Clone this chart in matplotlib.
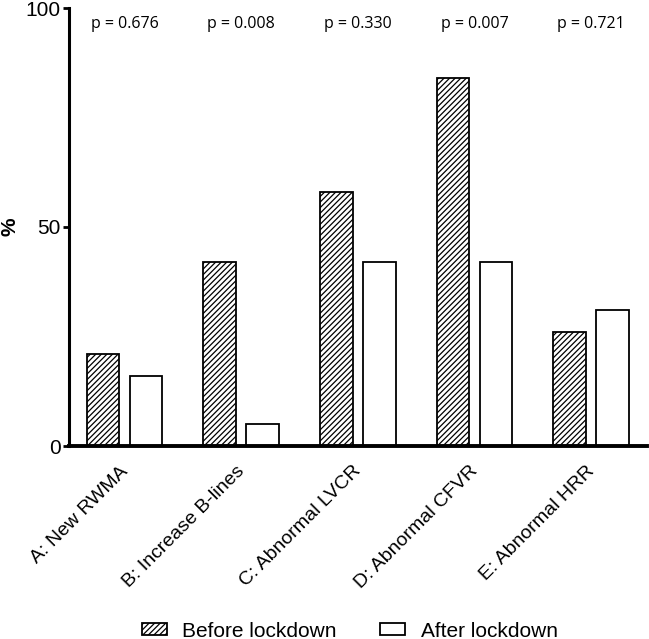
import matplotlib.pyplot as plt
import matplotlib.transforms as mtransforms
import numpy as np

categories = ["A: New RWMA", "B: Increase B-lines", "C: Abnormal LVCR",
              "D: Abnormal CFVR", "E: Abnormal HRR"]
before_lockdown = [21, 42, 58, 84, 26]
after_lockdown = [16, 5, 42, 42, 31]
p_values = ["p = 0.676", "p = 0.008", "p = 0.330", "p = 0.007", "p = 0.721"]

plt.rcParams['font.family'] = ['Liberation Sans', 'DejaVu Sans']
plt.rcParams['hatch.linewidth'] = 0.9

fig = plt.figure(figsize=(6.49, 6.39), dpi=100)
ax = fig.add_axes([69 / 649, 1 - 446 / 639, (647 - 69) / 649, (446 - 8) / 639])

x = np.arange(len(categories))
width = 0.28
offset = 0.184

ax.bar(x - offset, before_lockdown, width, color='white', edgecolor='black',
       hatch='//////', linewidth=1.3, label='Before lockdown')
ax.bar(x + offset, after_lockdown, width, color='white', edgecolor='black',
       linewidth=1.3, label='After lockdown')

# p-values above each group
for xi, p in zip(x, p_values):
    ax.text(xi, 96.3, p, ha='center', va='center', fontsize=11.5,
            family=['Open Sans', 'DejaVu Sans'])

ax.set_xlim(-0.476, 4.48)
ax.set_ylim(0, 100)
ax.set_yticks([0, 50, 100])
ax.tick_params(axis='y', labelsize=15, width=2, length=4, pad=2)
ax.tick_params(axis='x', length=0, pad=12)
ax.set_xticks(x)
ax.set_xticklabels(categories, rotation=45, ha='right', rotation_mode='anchor',
                   fontsize=14)
shift = mtransforms.ScaledTranslation(-5 / 100, 0, fig.dpi_scale_trans)
for lbl in ax.get_xticklabels():
    lbl.set_transform(lbl.get_transform() + shift)

ax.set_ylabel('%', fontsize=15, fontweight='bold')
ax.yaxis.set_label_coords(-0.086, 0.5)

for side in ['top', 'right']:
    ax.spines[side].set_visible(False)
ax.spines['left'].set_linewidth(2.2)
ax.spines['bottom'].set_linewidth(2.8)

fig.legend(loc='center', bbox_to_anchor=(0.539, 0.0125), ncol=2,
           frameon=False, fontsize=15, handlelength=1.2, handleheight=0.5,
           columnspacing=2.1, handletextpad=0.75)

fig.savefig('out.png', dpi=100, facecolor='white')
